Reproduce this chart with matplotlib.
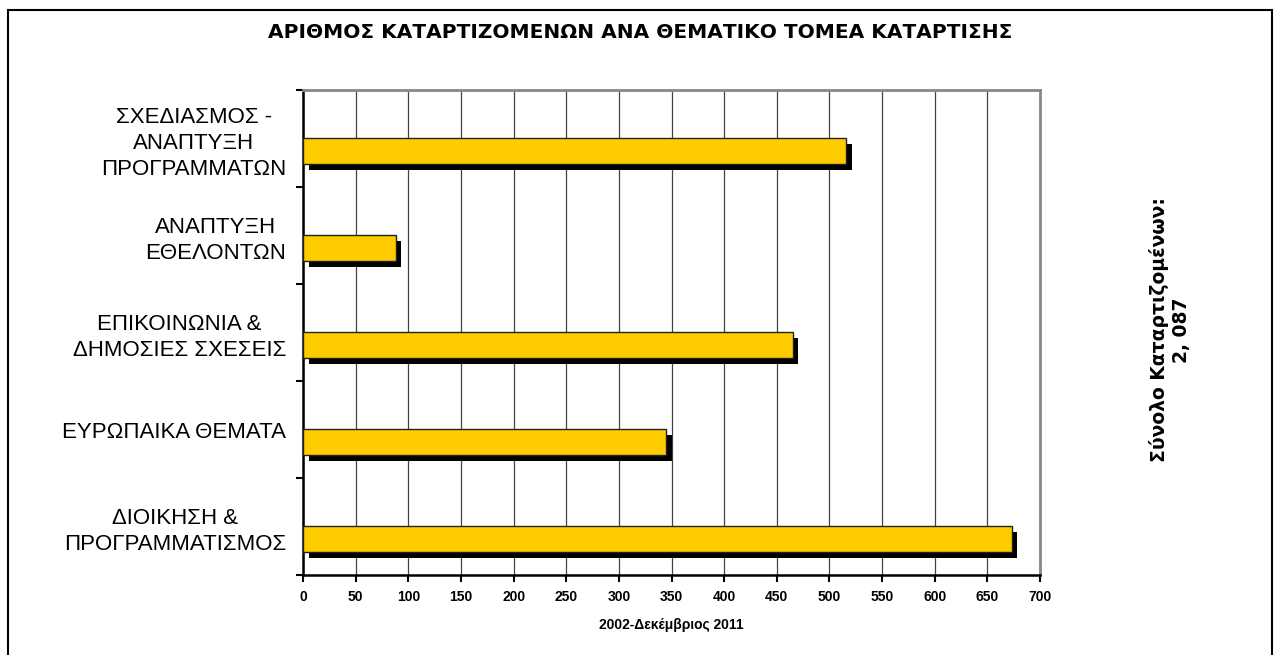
import matplotlib
matplotlib.use("Agg")
import matplotlib.pyplot as plt
import matplotlib.patheffects as pe
from matplotlib.patches import Rectangle
import numpy as np

categories = ['ΣΧΕΔΙΑΣΜΟΣ -\nΑΝΑΠΤΥΞΗ\nΠΡΟΓΡΑΜΜΑΤΩΝ', 'ΑΝΑΠΤΥΞΗ\nΕΘΕΛΟΝΤΩΝ',
              'ΕΠΙΚΟΙΝΩΝΙΑ &\nΔΗΜΟΣΙΕΣ ΣΧΕΣΕΙΣ', 'ΕΥΡΩΠΑΙΚΑ ΘΕΜΑΤΑ',
              'ΔΙΟΙΚΗΣΗ &\nΠΡΟΓΡΑΜΜΑΤΙΣΜΟΣ']
values = [516, 88, 465, 345, 673]
x_ticks = list(range(0, 701, 50))
title = 'ΑΡΙΘΜΟΣ ΚΑΤΑΡΤΙΖΟΜΕΝΩΝ ΑΝΑ ΘΕΜΑΤΙΚΟ ΤΟΜΕΑ ΚΑΤΑΡΤΙΣΗΣ'
x_label = '2002-Δεκέμβριος 2011'
side_note = 'Σύνολο Καταρτιζομένων:\n2, 087'

plt.rcParams['font.family'] = ['Liberation Sans', 'DejaVu Sans']

fig = plt.figure(figsize=(12.81, 6.55), dpi=100)
ax = fig.add_axes([303 / 1281, 1 - 575 / 655, (1040 - 303) / 1281, (575 - 90) / 655])

pos = np.arange(len(categories))
shadow = [pe.SimplePatchShadow(offset=(4, -4.3), shadow_rgbFace='black', alpha=1), pe.Normal()]
bars = ax.barh(pos + 0.13, values, height=0.27, color='#FFCC00', edgecolor='#222222',
               linewidth=1, zorder=3)
for b in bars:
    b.set_path_effects(shadow)

ax.set_xlim(0, 700)
ax.set_ylim(len(categories) - 0.5, -0.5)
ax.set_xticks(x_ticks)
ax.set_xticklabels([str(t) for t in x_ticks], fontsize=10, fontweight='bold')
ax.set_yticks(np.arange(len(categories) + 1) - 0.5)
ax.set_yticklabels([])
ax.set_yticks(pos, minor=True)
ax.set_yticklabels(categories, minor=True, fontsize=16, multialignment='center',
                   linespacing=1.3)
ax.tick_params(axis='y', which='minor', length=0, pad=12)
ax.tick_params(axis='both', which='major', length=5, width=1.5, direction='out')
ax.tick_params(axis='x', pad=6)
ax.set_xlabel(x_label, fontsize=10, fontweight='bold', labelpad=10)

ax.grid(axis='x', color='#444444', linewidth=0.9, zorder=0)
ax.set_axisbelow(True)
for side in ['top', 'right']:
    ax.spines[side].set_color('#888888')
    ax.spines[side].set_linewidth(2)
for side in ['bottom', 'left']:
    ax.spines[side].set_color('black')
    ax.spines[side].set_linewidth(1.8)

fig.text(0.5, 1 - 33 / 655, title, ha='center', va='center', fontsize=14.5,
         fontweight='bold', family='DejaVu Sans')
fig.text(1170 / 1281, 1 - 330 / 655, side_note, ha='center', va='center', rotation=90,
         fontsize=13.5, fontweight='bold', family='DejaVu Sans', multialignment='center')

fig.patches.append(Rectangle((8 / 1281, -0.05), (1272 - 8) / 1281, 1.05 - 10 / 655,
                             transform=fig.transFigure, fill=False, edgecolor='black',
                             linewidth=1.5))

fig.savefig('out.png', dpi=100)
